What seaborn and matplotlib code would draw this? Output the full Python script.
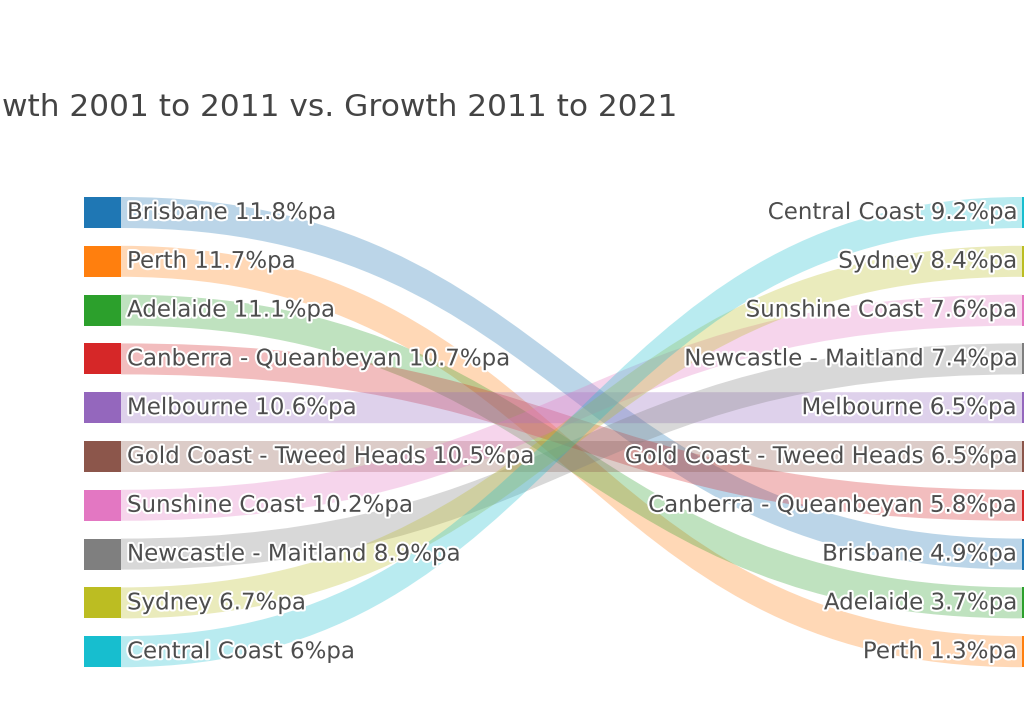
import matplotlib
matplotlib.use("Agg")
import matplotlib.pyplot as plt
import matplotlib.patheffects as pe
from matplotlib.path import Path
from matplotlib.patches import PathPatch, Rectangle
import seaborn as sns

# Data: growth per annum, two periods
cities = ["Brisbane", "Perth", "Adelaide", "Canberra - Queanbeyan", "Melbourne",
          "Gold Coast - Tweed Heads", "Sunshine Coast", "Newcastle - Maitland",
          "Sydney", "Central Coast"]
growth_2001_2011 = [11.8, 11.7, 11.1, 10.7, 10.6, 10.5, 10.2, 8.9, 6.7, 6.0]
growth_2011_2021 = [4.9, 1.3, 3.7, 5.8, 6.5, 6.5, 7.6, 7.4, 8.4, 9.2]
# order of the right column (ties broken as in the original)
right_order = ["Central Coast", "Sydney", "Sunshine Coast", "Newcastle - Maitland",
               "Melbourne", "Gold Coast - Tweed Heads", "Canberra - Queanbeyan",
               "Brisbane", "Adelaide", "Perth"]
title = "wth 2001 to 2011 vs. Growth 2011 to 2021"

sns.set_theme(style="white")
plt.rcParams["font.family"] = ["DejaVu Sans"]
colors = sns.color_palette("tab10", len(cities))

W, H = 1024, 709
fig = plt.figure(figsize=(W / 100, H / 100), dpi=100)
ax = fig.add_axes([0, 0, 1, 1])
ax.set_xlim(0, W)
ax.set_ylim(H, 0)
ax.axis("off")

# layout of the sankey columns (pixels)
left_x, right_x, node_w = 84, 1022, 37
top, step, node_h = 197, 48.8, 31

def fmt(v):
    return f"{v:g}%pa"

left_rank = {c: i for i, c in enumerate(sorted(cities, key=lambda c: -growth_2001_2011[cities.index(c)]))}
right_rank = {c: i for i, c in enumerate(right_order)}

halo = [pe.withStroke(linewidth=3, foreground="white")]
txt_color = "#4d4d4d"

for i, c in enumerate(cities):
    col = colors[i]
    y0 = top + left_rank[c] * step
    y1 = top + right_rank[c] * step
    xa, xb = left_x + node_w, right_x
    xm = (xa + xb) / 2
    verts = [(xa, y0), (xm, y0), (xm, y1), (xb, y1),
             (xb, y1 + node_h), (xm, y1 + node_h), (xm, y0 + node_h), (xa, y0 + node_h),
             (xa, y0)]
    codes = [Path.MOVETO, Path.CURVE4, Path.CURVE4, Path.CURVE4,
             Path.LINETO, Path.CURVE4, Path.CURVE4, Path.CURVE4, Path.CLOSEPOLY]
    ax.add_patch(PathPatch(Path(verts, codes), facecolor=col, alpha=0.3,
                           edgecolor="none", zorder=1))

for i, c in enumerate(cities):
    col = colors[i]
    y0 = top + left_rank[c] * step
    y1 = top + right_rank[c] * step
    ax.add_patch(Rectangle((left_x, y0), node_w, node_h, facecolor=col,
                           edgecolor="none", zorder=2))
    ax.add_patch(Rectangle((right_x, y1), node_w, node_h, facecolor=col,
                           edgecolor="none", zorder=2))
    ax.text(left_x + node_w + 6, y0 + node_h / 2, f"{c} {fmt(growth_2001_2011[i])}",
            ha="left", va="center", fontsize=16.5, color=txt_color,
            path_effects=halo, zorder=3)
    ax.text(right_x - 5, y1 + node_h / 2, f"{c} {fmt(growth_2011_2021[i])}",
            ha="right", va="center", fontsize=16.5, color=txt_color,
            path_effects=halo, zorder=3)

ax.text(2, 107, title, ha="left", va="center", fontsize=22.5, color="#444444")

fig.savefig("out.png", dpi=100)
